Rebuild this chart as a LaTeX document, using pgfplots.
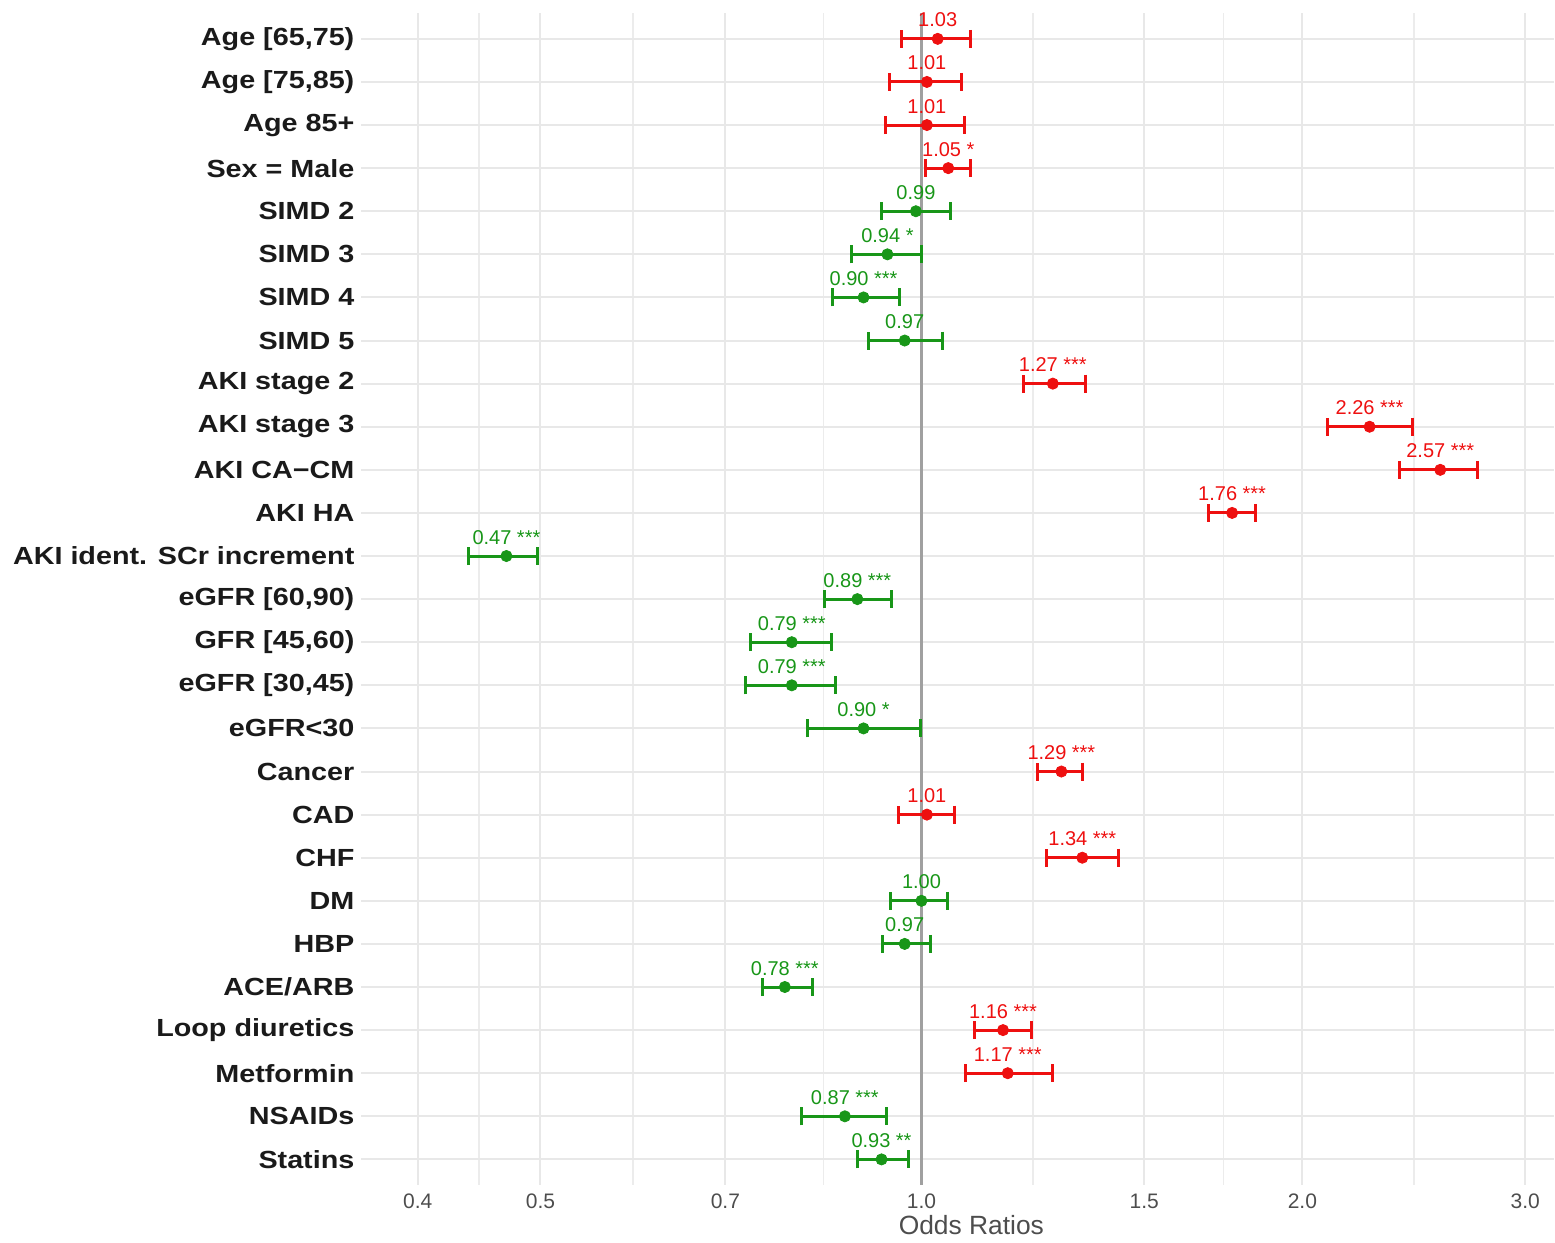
\documentclass[border=0pt]{standalone}
\usepackage{pgfplots}
\usepackage{pgfplotstable}
\pgfplotsset{compat=1.18}
\usepackage{fontspec}
\setmainfont{Liberation Sans}
\newfontfamily\ylabfont[FakeStretch=1.16]{Liberation Sans}

\definecolor{cred}{RGB}{238,16,16}
\definecolor{cgreen}{RGB}{24,150,24}
\definecolor{refline}{RGB}{160,160,160}
\definecolor{gridmaj}{RGB}{232,232,232}
\definecolor{gridmin}{RGB}{236,236,236}
\definecolor{ticktext}{RGB}{77,77,77}
\definecolor{labtext}{RGB}{26,26,26}

% odds ratios with 95% CI, row = position from top
\pgfplotstableread[col sep=comma]{
y,or,lo,hi,lab
1,1.03,0.964,1.093,1.03
2,1.01,0.943,1.075,1.01
3,1.01,0.937,1.081,1.01
4,1.05,1.007,1.093,1.05 *
9,1.27,1.204,1.347,1.27 ***
10,2.26,2.092,2.442,2.26 ***
11,2.57,2.385,2.748,2.57 ***
12,1.76,1.686,1.838,1.76 ***
18,1.29,1.235,1.340,1.29 ***
19,1.01,0.959,1.062,1.01
20,1.34,1.255,1.431,1.34 ***
24,1.16,1.101,1.221,1.16 ***
25,1.17,1.083,1.269,1.17 ***
}\redtab

\pgfplotstableread[col sep=comma]{
y,or,lo,hi,lab
5,0.99,0.930,1.054,0.99
6,0.94,0.880,1.000,0.94 *
7,0.90,0.851,0.961,0.90 ***
8,0.97,0.908,1.039,0.97
13,0.47,0.439,0.497,0.47 ***
14,0.89,0.838,0.947,0.89 ***
15,0.79,0.733,0.849,0.79 ***
16,0.79,0.726,0.855,0.79 ***
17,0.90,0.813,0.998,0.90 *
21,1.00,0.945,1.048,1.00
22,0.97,0.932,1.017,0.97
23,0.78,0.749,0.820,0.78 ***
26,0.87,0.804,0.938,0.87 ***
27,0.93,0.890,0.977,0.93 **
}\greentab

\pgfplotsset{
  forest/.style={
    only marks, mark=*, mark size=2.8pt, color=#1,
    error bars/.cd, x dir=both, x explicit,
      error mark=|,
      error bar style={line width=1.5pt, #1},
      error mark options={line width=1.5pt, mark size=4.5pt, #1},
  },
}

\begin{document}
\begin{tikzpicture}
\begin{axis}[
  scale only axis,
  width=597pt, height=586.5pt,
  xmode=log,
  xmin=0.3606, xmax=3.161,
  ymin=0.4, ymax=27.6,
  y dir=reverse,
  clip=false,
  axis line style={draw=none},
  tick style={draw=none},
  xtick={0.4,0.5,0.7,1,1.5,2,3},
  xticklabels={0.4,0.5,0.7,1.0,1.5,2.0,3.0},
  minor xtick={0.4472,0.5916,0.8367,1.2247,1.7321,2.4495},
  ytick={1,...,27},
  yticklabels={{Age [65,75)},{Age [75,85)},{Age 85+},{Sex = Male},{SIMD 2},{SIMD 3},{SIMD 4},{SIMD 5},
    {AKI stage 2},{AKI stage 3},{AKI CA−CM},{AKI HA},{AKI ident. SCr increment},
    {eGFR [60,90)},{GFR [45,60)},{eGFR [30,45)},{eGFR<30},{Cancer},{CAD},{CHF},{DM},{HBP},
    {ACE/ARB},{Loop diuretics},{Metformin},{NSAIDs},{Statins}},
  xmajorgrids, xminorgrids, ymajorgrids,
  major grid style={gridmaj, line width=1pt},
  minor grid style={gridmin, line width=0.7pt},
  xticklabel style={font=\fontsize{10.5}{12}\selectfont, text=ticktext, inner sep=0pt, yshift=-4pt},
  yticklabel style={font=\ylabfont\bfseries\fontsize{12.4}{14}\selectfont, text=labtext, inner sep=0pt, xshift=-3pt},
  xlabel={Odds Ratios},
  every axis x label/.style={at={(axis description cs:0.5,0)}, anchor=north, yshift=-15pt, xshift=7pt,
    inner sep=0pt, font=\fontsize{13.2}{15}\selectfont, text=ticktext},
  nodes near coords,
  point meta=explicit symbolic,
  every node near coord/.append style={font=\fontsize{10}{12}\selectfont, anchor=base, inner sep=0pt, yshift=6pt},
]
\addplot[refline, line width=1.5pt, forget plot] coordinates {(1,0.4) (1,27.6)};

\addplot[forest=cred] table[x=or, y=y, meta=lab,
  x error plus expr=\thisrow{hi}-\thisrow{or},
  x error minus expr=\thisrow{or}-\thisrow{lo}] {\redtab};

\addplot[forest=cgreen] table[x=or, y=y, meta=lab,
  x error plus expr=\thisrow{hi}-\thisrow{or},
  x error minus expr=\thisrow{or}-\thisrow{lo}] {\greentab};

\coordinate (sw) at (axis description cs:0,0);
\coordinate (ne) at (axis description cs:1,1);
\end{axis}
\path ([shift={(-180.5pt,-28.5pt)}]sw) rectangle ([shift={(0pt,5.5pt)}]ne);
\end{tikzpicture}
\end{document}
